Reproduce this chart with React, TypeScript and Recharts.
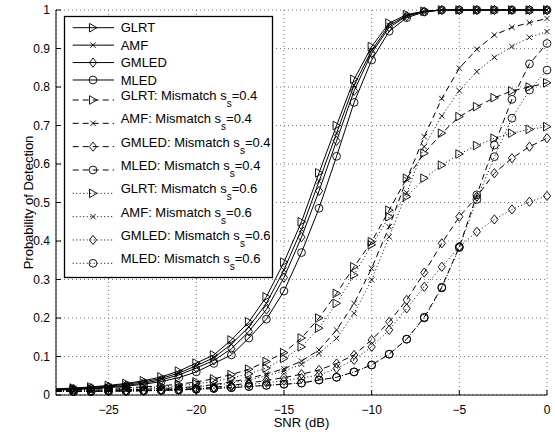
import React from 'react';
import { LineChart, Line, XAxis, YAxis, CartesianGrid, Legend, Label } from 'recharts';

// ---------- data ----------
const SNR = [-28, -27, -26, -25, -24, -23, -22, -21, -20, -19, -18, -17, -16, -15, -14, -13, -12, -11, -10, -9, -8, -7, -6, -5, -4, -3, -2, -1, 0];

const GLRT = [0.016, 0.018, 0.021, 0.025, 0.030, 0.037, 0.047, 0.062, 0.083, 0.104, 0.143, 0.19, 0.255, 0.345, 0.45, 0.577, 0.70, 0.82, 0.905, 0.966, 0.988, 0.997, 1, 1, 1, 1, 1, 1, 1];
const AMF = [0.015, 0.017, 0.020, 0.023, 0.028, 0.034, 0.043, 0.057, 0.076, 0.097, 0.132, 0.177, 0.238, 0.325, 0.43, 0.555, 0.68, 0.805, 0.895, 0.96, 0.986, 0.996, 1, 1, 1, 1, 1, 1, 1];
const GMLED = [0.014, 0.016, 0.018, 0.021, 0.025, 0.031, 0.039, 0.052, 0.07, 0.09, 0.12, 0.165, 0.222, 0.305, 0.41, 0.53, 0.66, 0.79, 0.888, 0.955, 0.984, 0.996, 1, 1, 1, 1, 1, 1, 1];
const MLED = [0.013, 0.014, 0.016, 0.019, 0.023, 0.028, 0.035, 0.045, 0.06, 0.082, 0.104, 0.148, 0.197, 0.27, 0.37, 0.485, 0.62, 0.76, 0.87, 0.945, 0.98, 0.995, 1, 1, 1, 1, 1, 1, 1];

const GLRT_04 = [0.015, 0.015, 0.016, 0.017, 0.019, 0.021, 0.024, 0.028, 0.034, 0.042, 0.053, 0.067, 0.087, 0.11, 0.148, 0.2, 0.264, 0.333, 0.398, 0.48, 0.563, 0.628, 0.68, 0.723, 0.749, 0.772, 0.79, 0.80, 0.811];
const AMF_04 = [0.012, 0.012, 0.013, 0.013, 0.014, 0.015, 0.017, 0.019, 0.022, 0.027, 0.034, 0.043, 0.055, 0.068, 0.088, 0.117, 0.169, 0.238, 0.329, 0.437, 0.56, 0.671, 0.77, 0.849, 0.898, 0.935, 0.955, 0.967, 0.978];
const GMLED_04 = [0.010, 0.010, 0.010, 0.011, 0.011, 0.012, 0.013, 0.015, 0.017, 0.020, 0.025, 0.031, 0.038, 0.045, 0.054, 0.065, 0.082, 0.104, 0.143, 0.19, 0.247, 0.318, 0.394, 0.463, 0.515, 0.576, 0.615, 0.645, 0.667];
const MLED_04 = [0.009, 0.009, 0.009, 0.010, 0.010, 0.011, 0.012, 0.013, 0.015, 0.017, 0.019, 0.022, 0.025, 0.028, 0.031, 0.039, 0.046, 0.06, 0.078, 0.106, 0.145, 0.202, 0.28, 0.385, 0.52, 0.649, 0.768, 0.86, 0.913];

const GLRT_06 = [0.014, 0.014, 0.015, 0.016, 0.017, 0.019, 0.021, 0.024, 0.029, 0.035, 0.044, 0.055, 0.07, 0.095, 0.125, 0.174, 0.238, 0.312, 0.39, 0.463, 0.515, 0.563, 0.597, 0.626, 0.648, 0.667, 0.68, 0.69, 0.697];
const AMF_06 = [0.012, 0.012, 0.012, 0.013, 0.014, 0.015, 0.016, 0.018, 0.021, 0.025, 0.031, 0.039, 0.05, 0.062, 0.08, 0.108, 0.147, 0.212, 0.299, 0.411, 0.525, 0.645, 0.725, 0.79, 0.84, 0.877, 0.905, 0.929, 0.944];
const GMLED_06 = [0.010, 0.010, 0.010, 0.010, 0.011, 0.011, 0.012, 0.013, 0.015, 0.018, 0.022, 0.027, 0.032, 0.037, 0.044, 0.052, 0.069, 0.091, 0.125, 0.169, 0.225, 0.281, 0.333, 0.385, 0.424, 0.456, 0.482, 0.502, 0.517];
const MLED_06 = [0.009, 0.009, 0.009, 0.010, 0.010, 0.011, 0.012, 0.013, 0.015, 0.017, 0.019, 0.022, 0.025, 0.028, 0.031, 0.039, 0.046, 0.06, 0.078, 0.106, 0.145, 0.2, 0.278, 0.383, 0.508, 0.619, 0.719, 0.792, 0.844];

const X_TICKS = [-25, -20, -15, -10, -5, 0];
const Y_TICKS = [0, 0.1, 0.2, 0.3, 0.4, 0.5, 0.6, 0.7, 0.8, 0.9, 1];
const FIRST_MARKER_SNR = -27;

// ---------- series config ----------
type Shape = 'tri' | 'x' | 'dia' | 'circ';
type SeriesCfg = { key: string; values: number[]; shape: Shape; dash?: string; label: string; sub?: string; suffix?: string };

const DASHED = '6 4';
const DOTTED = '1 2.5';

const SERIES: SeriesCfg[] = [
  { key: 'glrt', values: GLRT, shape: 'tri', label: 'GLRT' },
  { key: 'amf', values: AMF, shape: 'x', label: 'AMF' },
  { key: 'gmled', values: GMLED, shape: 'dia', label: 'GMLED' },
  { key: 'mled', values: MLED, shape: 'circ', label: 'MLED' },
  { key: 'glrt04', values: GLRT_04, shape: 'tri', dash: DASHED, label: 'GLRT: Mismatch s', sub: 's', suffix: '=0.4' },
  { key: 'amf04', values: AMF_04, shape: 'x', dash: DASHED, label: 'AMF: Mismatch s', sub: 's', suffix: '=0.4' },
  { key: 'gmled04', values: GMLED_04, shape: 'dia', dash: DASHED, label: 'GMLED: Mismatch s', sub: 's', suffix: '=0.4' },
  { key: 'mled04', values: MLED_04, shape: 'circ', dash: DASHED, label: 'MLED: Mismatch s', sub: 's', suffix: '=0.4' },
  { key: 'glrt06', values: GLRT_06, shape: 'tri', dash: DOTTED, label: 'GLRT: Mismatch s', sub: 's', suffix: '=0.6' },
  { key: 'amf06', values: AMF_06, shape: 'x', dash: DOTTED, label: 'AMF: Mismatch s', sub: 's', suffix: '=0.6' },
  { key: 'gmled06', values: GMLED_06, shape: 'dia', dash: DOTTED, label: 'GMLED: Mismatch s', sub: 's', suffix: '=0.6' },
  { key: 'mled06', values: MLED_06, shape: 'circ', dash: DOTTED, label: 'MLED: Mismatch s', sub: 's', suffix: '=0.6' },
];

const DATA = SNR.map((snr, i) => {
  const row: Record<string, number> = { snr };
  SERIES.forEach((s) => {
    row[s.key] = s.values[i];
  });
  return row;
});

const FONT = '"Liberation Sans", Arial, Helvetica, sans-serif';
const INK = '#000';

// ---------- markers ----------
function Marker({ shape, cx, cy }: { shape: Shape; cx: number; cy: number }) {
  const common = { fill: 'none', stroke: INK, strokeWidth: 0.9 };
  if (shape === 'tri') {
    return <path d={`M${cx - 3.5},${cy - 4.3} L${cx + 4},${cy} L${cx - 3.5},${cy + 4.3} Z`} {...common} />;
  }
  if (shape === 'x') {
    const r = 2.7;
    return <path d={`M${cx - r},${cy - r} L${cx + r},${cy + r} M${cx - r},${cy + r} L${cx + r},${cy - r}`} {...common} />;
  }
  if (shape === 'dia') {
    return <path d={`M${cx},${cy - 4.6} L${cx + 3.6},${cy} L${cx},${cy + 4.6} L${cx - 3.6},${cy} Z`} {...common} />;
  }
  return <circle cx={cx} cy={cy} r={3.9} {...common} />;
}

// ---------- ticks ----------
function XTick(props: any) {
  const { x, y, payload } = props;
  const axisY = y - 10;
  const v = payload.value as number;
  const txt = v < 0 ? `\u2212${Math.abs(v)}` : String(v);
  return (
    <g>
      <line x1={x} x2={x} y1={axisY} y2={axisY - 5} stroke={INK} strokeWidth={1} />
      <text x={x} y={y} dy="0.71em" textAnchor="middle" fontSize={12} fontFamily={FONT} fill={INK}>
        {txt}
      </text>
    </g>
  );
}

function YTick(props: any) {
  const { x, y, payload } = props;
  const axisX = x + 6;
  return (
    <g>
      <line x1={axisX} x2={axisX + 5} y1={y} y2={y} stroke={INK} strokeWidth={1} />
      <text x={x} y={y} dy="0.355em" textAnchor="end" fontSize={12} fontFamily={FONT} fill={INK}>
        {String(payload.value)}
      </text>
    </g>
  );
}

// ---------- legend ----------
const LEG_W = 209;
const LEG_H = 262;

function LegendBox() {
  const rowY = (i: number) => (i < 4 ? 11.7 + 17.43 * i : 84 + 23.33 * (i - 4));
  return (
    <svg width={LEG_W} height={LEG_H} style={{ overflow: 'visible', display: 'block' }}>
      <rect x={0.5} y={0.5} width={LEG_W - 1} height={LEG_H - 1} fill="#fff" stroke={INK} strokeWidth={1.3} />
      {SERIES.map((s, i) => {
        const y = rowY(i);
        return (
          <g key={s.key}>
            <line x1={8.7} x2={50} y1={y} y2={y} stroke={INK} strokeWidth={1} strokeDasharray={s.dash} />
            <Marker shape={s.shape} cx={29} cy={y} />
            {s.sub ? (
              <text x={56.7} y={y} fontSize={13} fontFamily={FONT} fill={INK}>
                {s.label}
                <tspan dy={7} fontSize={10}>
                  {s.sub}
                </tspan>
                <tspan dy={-7}>{s.suffix}</tspan>
              </text>
            ) : (
              <text x={56.7} y={y + 4.6} fontSize={13} fontFamily={FONT} fill={INK}>
                {s.label}
              </text>
            )}
          </g>
        );
      })}
    </svg>
  );
}

export default function App() {
  return (
    <div style={{ position: 'absolute', left: 0, top: 0, width: 555, height: 434, background: '#fff' }}>
      <LineChart width={555} height={434} data={DATA} margin={{ top: 10, right: 8, left: 0, bottom: 0 }}>
        <CartesianGrid stroke="#777" strokeDasharray="1 3" strokeWidth={1} />
        <XAxis
          dataKey="snr"
          type="number"
          domain={[-28, 0]}
          ticks={X_TICKS}
          interval={0}
          height={39}
          tickSize={6}
          tickMargin={4}
          tickLine={false}
          axisLine={{ stroke: INK, strokeWidth: 1 }}
          tick={<XTick />}
        >
          <Label value="SNR (dB)" position="insideBottom" offset={7} style={{ fontSize: 13, fontFamily: FONT, fill: INK }} />
        </XAxis>
        <YAxis
          type="number"
          domain={[0, 1]}
          ticks={Y_TICKS}
          interval={0}
          width={56}
          tickSize={4}
          tickMargin={2}
          tickLine={false}
          axisLine={{ stroke: INK, strokeWidth: 1 }}
          tick={<YTick />}
        >
          <Label value="Probability of Detection" angle={-90} position="center" style={{ fontSize: 13, fontFamily: FONT, fill: INK, textAnchor: 'middle' }} />
        </YAxis>
        <Legend
          layout="horizontal"
          verticalAlign="middle"
          align="center"
          wrapperStyle={{ left: 64, top: 16, width: LEG_W, height: LEG_H }}
          content={() => <LegendBox />}
        />
        {SERIES.map((s) => (
          <Line
            key={s.key}
            dataKey={s.key}
            type="linear"
            stroke={INK}
            strokeWidth={1}
            strokeDasharray={s.dash}
            isAnimationActive={false}
            activeDot={false}
            legendType="none"
            dot={(p: any) => {
              const k = `${s.key}-${p.index}`;
              if (p.cx == null || p.cy == null || SNR[p.index] < FIRST_MARKER_SNR) return <g key={k} />;
              return <Marker key={k} shape={s.shape} cx={p.cx} cy={p.cy} />;
            }}
          />
        ))}
      </LineChart>
    </div>
  );
}
